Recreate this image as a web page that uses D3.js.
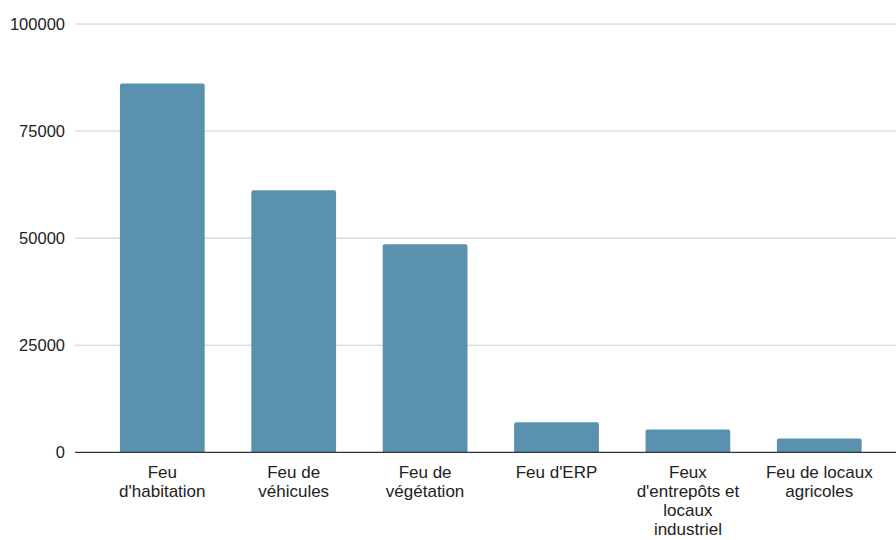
<!DOCTYPE html>
<html>
<head>
<meta charset="utf-8">
<script src="https://cdn.jsdelivr.net/npm/d3@7"></script>
<style>
  html, body { margin: 0; padding: 0; background: #fff; }
  svg { display: block; font-family: "Liberation Sans", Arial, sans-serif; }
</style>
</head>
<body>
<svg id="chart" width="896" height="540"></svg>
<script>
const categories = [
  "Feu d'habitation",
  "Feu de véhicules",
  "Feu de végétation",
  "Feu d'ERP",
  "Feux d'entrepôts et locaux industriel",
  "Feu de locaux agricoles"
];
const labelLines = [
  ["Feu", "d'habitation"],
  ["Feu de", "véhicules"],
  ["Feu de", "végétation"],
  ["Feu d'ERP"],
  ["Feux", "d'entrepôts et", "locaux", "industriel"],
  ["Feu de locaux", "agricoles"]
];
const values = [86100, 61200, 48600, 7000, 5300, 3200];
const yTicks = [0, 25000, 50000, 75000, 100000];

const svg = d3.select("#chart");
const axisLeft = 75, axisRight = 896;
const y = d3.scaleLinear().domain([0, 100000]).range([452.3, 24]);
const x = d3.scaleBand().domain(categories).range([96.6, 885]).paddingInner(0.355).paddingOuter(0.1775);

// gridlines
svg.append("g").selectAll("line").data(yTicks.filter(d => d > 0)).join("line")
  .attr("x1", axisLeft).attr("x2", axisRight)
  .attr("y1", d => y(d)).attr("y2", d => y(d))
  .attr("stroke", "#cccccc").attr("stroke-width", 1);

// y tick labels
svg.append("g").selectAll("text").data(yTicks).join("text")
  .attr("x", 65).attr("y", d => y(d)).attr("dy", "0.35em")
  .attr("text-anchor", "end").attr("font-size", 16.5).attr("fill", "#222")
  .text(d => d);

// bars with rounded top corners
const r = 2;
svg.append("g").selectAll("path").data(values).join("path")
  .attr("fill", "#5991ae")
  .attr("d", (d, i) => {
    const x0 = x(categories[i]), w = x.bandwidth();
    const yt = y(d), yb = y(0);
    return `M${x0},${yb}V${yt + r}Q${x0},${yt} ${x0 + r},${yt}H${x0 + w - r}Q${x0 + w},${yt} ${x0 + w},${yt + r}V${yb}Z`;
  });

// baseline
svg.append("line")
  .attr("x1", axisLeft).attr("x2", axisRight)
  .attr("y1", y(0)).attr("y2", y(0))
  .attr("stroke", "#333").attr("stroke-width", 1.3);

// x labels
const xl = svg.append("g");
categories.forEach((c, i) => {
  const cx = x(c) + x.bandwidth() / 2;
  const t = xl.append("text")
    .attr("x", cx).attr("y", 477.5)
    .attr("text-anchor", "middle").attr("font-size", 17).attr("fill", "#222");
  labelLines[i].forEach((ln, j) => {
    t.append("tspan").attr("x", cx).attr("y", 477.5 + j * 19.3).text(ln);
  });
});
</script>
</body>
</html>
